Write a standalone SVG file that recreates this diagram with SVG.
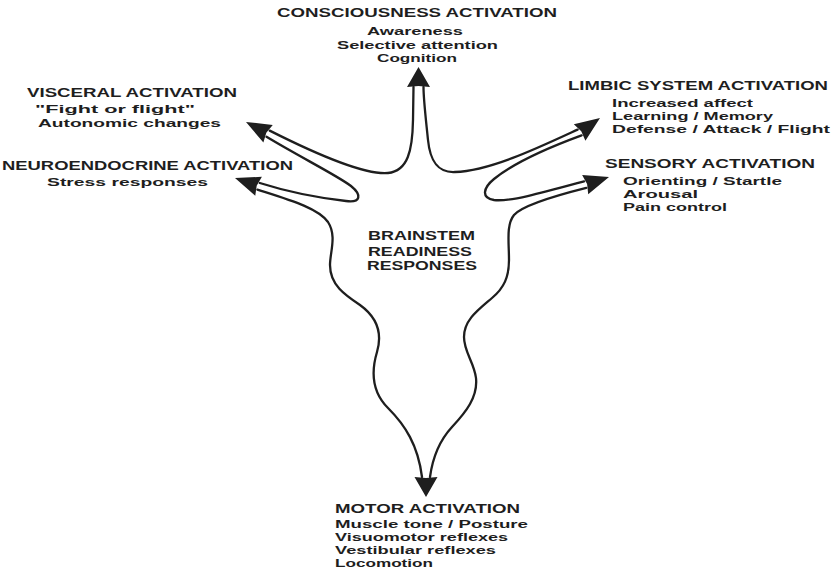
<svg xmlns="http://www.w3.org/2000/svg" width="836" height="571" viewBox="0 0 836 571">
<style>
  text { font-family: "Liberation Sans", Arial, sans-serif; font-weight: bold; font-size: 12px; fill: #1e1e1e; }
  text.s { font-size: 11.5px; }
  .line { fill: none; stroke: #1e1e1e; stroke-width: 2.3; stroke-linecap: round; stroke-linejoin: round; }
  .head { fill: #1e1e1e; stroke: none; }
</style>
<defs>
  <path id="ah" d="M0,0 L-25,-10 L-23,0 L-25,10 Z"/>
  <path id="ahv" d="M0,0 L-20,-11.5 L-19,0 L-20,11.5 Z"/>
</defs>
<rect width="836" height="571" fill="#ffffff"/>

<g id="connectors">
  <path class="line" d="M 413.5,87 L 413,120 C 412.5,150 408,171 388,173 C 365,175 320,156 269.7,130.6"/>
  <path class="line" d="M 266.5,136.8 C 300,157 338,176 351,186 C 362,195 361,203 346,201 C 320,198 285,191 259.8,183.0"/>
  <path class="line" d="M 257.4,189.6 C 290,200 318,208 328,222 C 337,236 330,252 330,265 C 330,285 345,295 360,305 C 378,318 382,335 377,352 C 371,372 372,392 388,408 C 405,425 418,445 422,477"/>
  <path class="line" d="M 430,477 C 433,455 440,440 452,427 C 466,412 478,397 476,378 C 474,362 464,352 464,337 C 464,320 478,310 492,298 C 504,288 509,277 509,260 C 509,242 506,225 514,215 C 522,206 550,197 586.3,187.9"/>
  <path class="line" d="M 584.1,181.3 C 545,192 510,202 494,200 C 481,198 483,188 494,179 C 515,162 550,147 581.6,135.4"/>
  <path class="line" d="M 577.6,129.6 C 540,147 490,171 455,172 C 437,173 430,160 428,140 C 426,120 423.5,100 423.5,87"/>
  <use href="#ahv" class="head" transform="translate(418.5,67) rotate(-90)"/>
  <use href="#ahv" class="head" transform="translate(426,497) rotate(90)"/>
  <use href="#ah" class="head" transform="translate(246,122) rotate(208)"/>
  <use href="#ah" class="head" transform="translate(235,178) rotate(199.4)"/>
  <use href="#ah" class="head" transform="translate(600,118) rotate(-35.4)"/>
  <use href="#ah" class="head" transform="translate(609,177) rotate(-17.7)"/>
</g>

<g id="brainstem">
  <text x="368" y="240" textLength="107" lengthAdjust="spacingAndGlyphs">BRAINSTEM</text>
  <text x="368" y="256" textLength="104" lengthAdjust="spacingAndGlyphs">READINESS</text>
  <text x="367" y="270" textLength="110" lengthAdjust="spacingAndGlyphs">RESPONSES</text>
</g>

<g id="consciousness">
  <text x="277" y="17" textLength="280" lengthAdjust="spacingAndGlyphs">CONSCIOUSNESS ACTIVATION</text>
  <text class="s" x="367" y="35" textLength="96" lengthAdjust="spacingAndGlyphs">Awareness</text>
  <text class="s" x="337" y="48.5" textLength="161" lengthAdjust="spacingAndGlyphs">Selective attention</text>
  <text class="s" x="377" y="61.5" textLength="80" lengthAdjust="spacingAndGlyphs">Cognition</text>
</g>

<g id="visceral">
  <text x="27" y="96.5" textLength="210" lengthAdjust="spacingAndGlyphs">VISCERAL ACTIVATION</text>
  <text class="s" x="35" y="113" textLength="160" lengthAdjust="spacingAndGlyphs">"Fight or flight"</text>
  <text class="s" x="38" y="127" textLength="183" lengthAdjust="spacingAndGlyphs">Autonomic changes</text>
</g>

<g id="neuroendocrine">
  <text x="2" y="169.5" textLength="291" lengthAdjust="spacingAndGlyphs">NEUROENDOCRINE ACTIVATION</text>
  <text class="s" x="47" y="186" textLength="161" lengthAdjust="spacingAndGlyphs">Stress responses</text>
</g>

<g id="limbic">
  <text x="568" y="90" textLength="260" lengthAdjust="spacingAndGlyphs">LIMBIC SYSTEM ACTIVATION</text>
  <text class="s" x="612" y="106.5" textLength="141" lengthAdjust="spacingAndGlyphs">Increased affect</text>
  <text class="s" x="612" y="119.5" textLength="161" lengthAdjust="spacingAndGlyphs">Learning / Memory</text>
  <text class="s" x="612" y="132.5" textLength="218" lengthAdjust="spacingAndGlyphs">Defense / Attack / Flight</text>
</g>

<g id="sensory">
  <text x="605" y="168" textLength="210" lengthAdjust="spacingAndGlyphs">SENSORY ACTIVATION</text>
  <text class="s" x="623" y="185" textLength="159" lengthAdjust="spacingAndGlyphs">Orienting / Startle</text>
  <text class="s" x="623" y="198" textLength="75" lengthAdjust="spacingAndGlyphs">Arousal</text>
  <text class="s" x="623" y="211" textLength="104" lengthAdjust="spacingAndGlyphs">Pain control</text>
</g>

<g id="motor">
  <text x="335" y="512.5" textLength="185" lengthAdjust="spacingAndGlyphs">MOTOR ACTIVATION</text>
  <text class="s" x="335" y="527.5" textLength="193" lengthAdjust="spacingAndGlyphs">Muscle tone / Posture</text>
  <text class="s" x="335" y="540.5" textLength="173" lengthAdjust="spacingAndGlyphs">Visuomotor reflexes</text>
  <text class="s" x="335" y="553.5" textLength="161" lengthAdjust="spacingAndGlyphs">Vestibular reflexes</text>
  <text class="s" x="335" y="566.5" textLength="98" lengthAdjust="spacingAndGlyphs">Locomotion</text>
</g>
</svg>
